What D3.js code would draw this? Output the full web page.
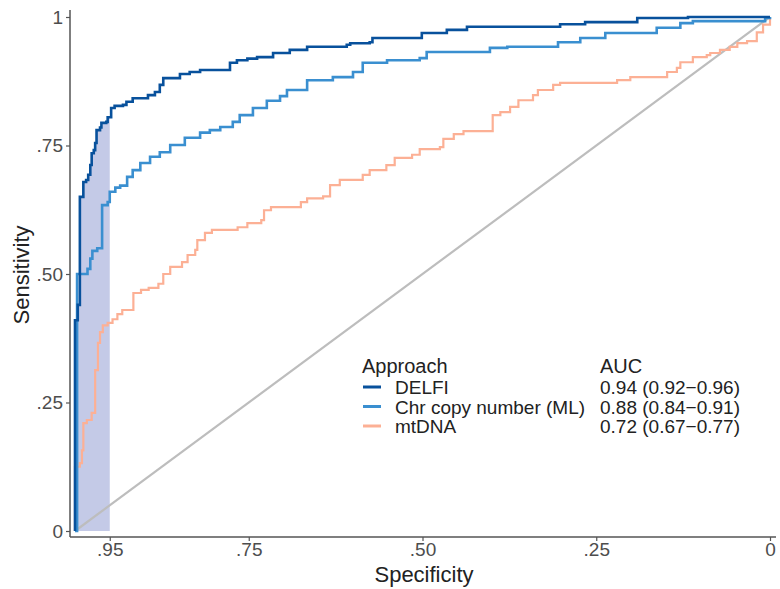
<!DOCTYPE html>
<html>
<head>
<meta charset="utf-8">
<script src="https://cdn.jsdelivr.net/npm/d3@7"></script>
<style>
  body { margin: 0; background: #fff; }
  text { font-family: "Liberation Sans", Arial, sans-serif; }
</style>
</head>
<body>
<script>
// ROC points: [specificity, sensitivity]
var delfi = [
  [1.0, 0], [1.0, 0.41], [0.996, 0.44], [0.993, 0.47], [0.993, 0.65],
  [0.988, 0.679], [0.984, 0.683], [0.981, 0.693], [0.978, 0.712], [0.976, 0.735],
  [0.973, 0.741], [0.971, 0.755], [0.969, 0.78], [0.964, 0.785], [0.962, 0.794],
  [0.955, 0.796], [0.953, 0.805], [0.948, 0.823], [0.943, 0.827], [0.931, 0.829],
  [0.926, 0.835], [0.917, 0.842], [0.895, 0.848], [0.885, 0.854], [0.878, 0.868],
  [0.873, 0.881], [0.849, 0.889], [0.835, 0.893], [0.820, 0.897], [0.787, 0.897],
  [0.777, 0.911], [0.767, 0.916], [0.752, 0.919], [0.738, 0.922], [0.715, 0.930],
  [0.691, 0.936], [0.666, 0.942], [0.609, 0.946], [0.604, 0.949], [0.576, 0.951],
  [0.572, 0.959], [0.504, 0.959], [0.501, 0.969], [0.465, 0.969], [0.465, 0.975],
  [0.442, 0.975], [0.436, 0.981], [0.305, 0.981], [0.302, 0.986], [0.266, 0.990],
  [0.191, 0.998], [0.118, 1.0], [0, 1.0]
];
var chr = [
  [1.0, 0], [0.997, 0.125], [0.997, 0.50], [0.986, 0.50], [0.982, 0.51],
  [0.978, 0.53], [0.975, 0.545], [0.968, 0.55], [0.961, 0.55], [0.961, 0.634],
  [0.953, 0.64], [0.95, 0.66], [0.942, 0.668], [0.935, 0.672], [0.925, 0.689],
  [0.917, 0.702], [0.906, 0.716], [0.892, 0.728], [0.878, 0.737], [0.863, 0.751],
  [0.842, 0.765], [0.820, 0.775], [0.806, 0.780], [0.791, 0.786], [0.773, 0.796],
  [0.763, 0.809], [0.744, 0.823], [0.724, 0.837], [0.705, 0.846], [0.695, 0.858],
  [0.666, 0.877], [0.629, 0.883], [0.600, 0.893], [0.586, 0.911], [0.551, 0.916],
  [0.504, 0.920], [0.494, 0.932], [0.407, 0.932], [0.403, 0.940], [0.378, 0.942],
  [0.305, 0.951], [0.273, 0.959], [0.237, 0.969], [0.163, 0.979], [0.129, 0.988],
  [0.111, 0.992], [0.019, 0.992], [0.007, 0.998], [0, 1.0]
];
var mtdna = [
  [1.0, 0], [1.0, 0.125], [0.993, 0.132], [0.990, 0.157], [0.988, 0.21],
  [0.983, 0.216], [0.976, 0.23], [0.971, 0.245], [0.971, 0.313], [0.967, 0.366],
  [0.964, 0.387], [0.960, 0.40], [0.953, 0.405], [0.946, 0.412], [0.939, 0.422],
  [0.932, 0.43], [0.919, 0.43], [0.916, 0.463], [0.905, 0.469], [0.894, 0.473],
  [0.880, 0.481], [0.873, 0.50], [0.863, 0.514], [0.846, 0.523], [0.838, 0.537],
  [0.827, 0.547], [0.824, 0.566], [0.813, 0.580], [0.803, 0.586], [0.774, 0.586],
  [0.766, 0.591], [0.752, 0.599], [0.732, 0.605], [0.728, 0.624], [0.718, 0.630],
  [0.685, 0.630], [0.675, 0.640], [0.666, 0.647], [0.643, 0.651], [0.633, 0.673],
  [0.619, 0.683], [0.586, 0.693], [0.576, 0.702], [0.552, 0.712], [0.540, 0.726],
  [0.515, 0.732], [0.504, 0.743], [0.475, 0.747], [0.470, 0.763], [0.455, 0.772],
  [0.441, 0.778], [0.406, 0.778], [0.399, 0.809], [0.388, 0.815], [0.374, 0.825],
  [0.362, 0.838], [0.341, 0.848], [0.334, 0.858], [0.312, 0.868], [0.302, 0.872],
  [0.226, 0.872], [0.220, 0.877], [0.201, 0.883], [0.158, 0.883], [0.148, 0.893],
  [0.134, 0.901], [0.129, 0.912], [0.115, 0.912], [0.111, 0.922], [0.091, 0.926],
  [0.086, 0.93], [0.072, 0.936], [0.058, 0.942], [0.047, 0.949], [0.033, 0.953],
  [0.019, 0.97], [0.01, 0.985], [0, 1.0]
];

var approaches = ["DELFI", "Chr copy number (ML)", "mtDNA"];
var aucLabels = ["0.94 (0.92\u22120.96)", "0.88 (0.84\u22120.91)", "0.72 (0.67\u22120.77)"];
var colors = ["#08519c", "#3a8fd0", "#fcb095"];
var xTicks = [0.95, 0.75, 0.5, 0.25, 0];
var yTicks = [0, 0.25, 0.5, 0.75, 1];
var shadeFrom = 0.95;

var width = 780, height = 589;

var svg = d3.select("body").append("svg")
    .attr("width", width)
    .attr("height", height);

var x = d3.scaleLinear().domain([1, 0]).range([75, 770]);
var y = d3.scaleLinear().domain([0, 1]).range([531, 17]);

function fmt(d) {
  if (d === 0) return "0";
  if (d === 1) return "1";
  return "." + d3.format(".2f")(d).split(".")[1];
}

// shaded partial area (specificity 0.95 - 1) under DELFI
var shadePts = delfi.filter(function(d) { return d[0] >= shadeFrom; });
var lastVal = shadePts[shadePts.length - 1][1];
shadePts.push([shadeFrom, lastVal]);
var area = d3.area()
    .x(function(d) { return x(d[0]); })
    .y0(y(0))
    .y1(function(d) { return y(d[1]); })
    .curve(d3.curveStepAfter);
svg.append("path")
    .datum(shadePts)
    .attr("d", area)
    .style("fill", "#c4cae7");

// diagonal reference
svg.append("line")
    .attr("x1", x(1)).attr("y1", y(0))
    .attr("x2", x(0)).attr("y2", y(1))
    .style("stroke", "#bdbdbd")
    .style("stroke-width", 2.2);

var line = d3.line()
    .x(function(d) { return x(d[0]); })
    .y(function(d) { return y(d[1]); })
    .curve(d3.curveStepAfter);

var series = [mtdna, chr, delfi];
var seriesColors = [colors[2], colors[1], colors[0]];
var seriesWidths = [2.2, 2.6, 2.6];
series.forEach(function(s, i) {
  svg.append("path")
    .datum(s)
    .attr("d", line)
    .style("fill", "none")
    .style("stroke", seriesColors[i])
    .style("stroke-width", seriesWidths[i])
    .style("stroke-linejoin", "miter");
});

// axes
var axisColor = "#555";
var xAxis = svg.append("g")
    .attr("transform", "translate(0,537)")
    .call(d3.axisBottom(x).tickValues(xTicks).tickFormat(fmt).tickSize(4).tickPadding(2));
var yAxis = svg.append("g")
    .attr("transform", "translate(70,0)")
    .call(d3.axisLeft(y).tickValues(yTicks).tickFormat(fmt).tickSize(4).tickPadding(3));

[xAxis, yAxis].forEach(function(g) {
  g.select(".domain").remove();
  g.selectAll(".tick line").style("stroke", axisColor).style("stroke-width", 1.2);
  g.selectAll(".tick text")
    .style("font-size", "19px")
    .style("fill", "#4d4d4d")
    .style("font-family", "Liberation Sans, Arial, sans-serif");
});

svg.append("line")
    .attr("x1", 70).attr("x2", 776).attr("y1", 537).attr("y2", 537)
    .style("stroke", axisColor).style("stroke-width", 1.5);
svg.append("line")
    .attr("x1", 70).attr("x2", 70).attr("y1", 10).attr("y2", 537)
    .style("stroke", axisColor).style("stroke-width", 1.5);

svg.append("text")
    .attr("x", 424).attr("y", 582)
    .attr("text-anchor", "middle")
    .style("font-size", "22px")
    .style("fill", "#222")
    .text("Specificity");
svg.append("text")
    .attr("transform", "translate(29,275) rotate(-90)")
    .attr("text-anchor", "middle")
    .style("font-size", "22px")
    .style("fill", "#222")
    .text("Sensitivity");

// legend
var legend = svg.append("g");
legend.append("text")
    .attr("x", 362).attr("y", 373)
    .style("font-size", "20px").style("fill", "#222")
    .text("Approach");
legend.append("text")
    .attr("x", 600).attr("y", 373)
    .style("font-size", "20px").style("fill", "#222")
    .text("AUC");

approaches.forEach(function(a, i) {
  var cy = 387 + i * 19.5;
  legend.append("line")
    .attr("x1", 363).attr("x2", 381)
    .attr("y1", cy).attr("y2", cy)
    .style("stroke", colors[i]).style("stroke-width", 3);
  legend.append("text")
    .attr("x", 395).attr("y", cy + 7)
    .style("font-size", "19px").style("fill", "#222")
    .text(a);
  legend.append("text")
    .attr("x", 600).attr("y", cy + 7)
    .style("font-size", "19px").style("fill", "#222")
    .text(aucLabels[i]);
});
</script>
</body>
</html>
